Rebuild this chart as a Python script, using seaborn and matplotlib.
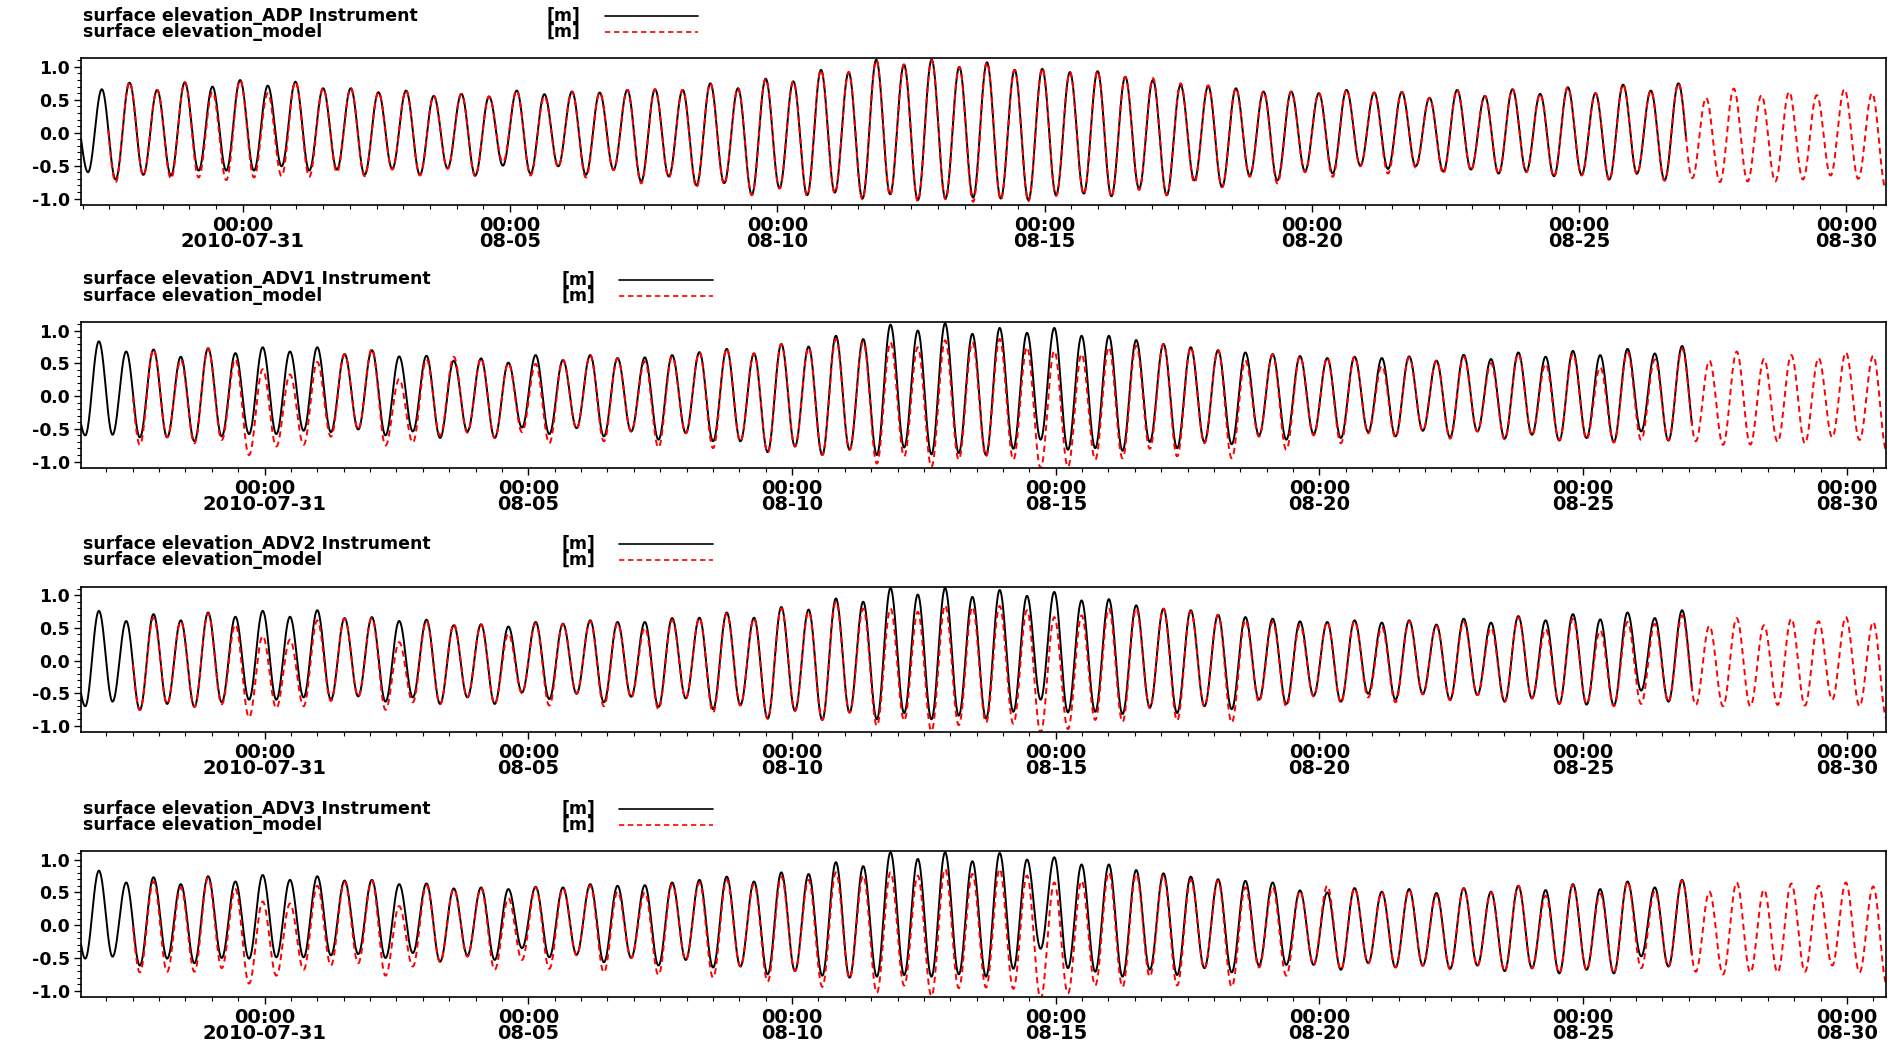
import numpy as np
import pandas as pd
import matplotlib
matplotlib.use("Agg")
import matplotlib.pyplot as plt
import matplotlib.dates as mdates
from matplotlib.lines import Line2D
from matplotlib.ticker import FixedLocator, MultipleLocator
import seaborn as sns

# ---------------------------------------------------------------------------
# Tidal record: high / low water per M2 cycle (metres)
# ---------------------------------------------------------------------------
BASE = pd.Timestamp("2010-07-31 00:00")
PERIOD_H = 12.42  # semidiurnal (M2) period in hours

# ADP station -- first listed high water at 2010-07-28 08:38, cycle index starts at -1
adp_first_high = pd.Timestamp("2010-07-28 08:38")
adp_obs_start, adp_obs_end = pd.Timestamp("2010-07-27 23:17"), pd.Timestamp("2010-08-27 00:00")
adp_mod_start, adp_mod_end = pd.Timestamp("2010-07-28 11:31"), pd.Timestamp("2010-08-30 17:46")
adp_obs_k0 = -1
adp_obs_high = [0.40, 0.66, 0.76, 0.65, 0.765, 0.70, 0.80, 0.715, 0.775, 0.675, 0.675,
                0.615, 0.64, 0.56, 0.59, 0.55, 0.64, 0.585, 0.625, 0.61, 0.65,
                0.66, 0.65, 0.75, 0.675, 0.82, 0.78, 0.955, 0.92, 1.11, 1.035,
                1.11, 1.0, 1.07, 0.955, 0.97, 0.92, 0.935, 0.85, 0.80, 0.725,
                0.71, 0.675, 0.625, 0.625, 0.6, 0.65, 0.61, 0.62, 0.53, 0.65,
                0.56, 0.66, 0.59, 0.69, 0.6, 0.73, 0.64, 0.75]
adp_obs_low = [-0.6, -0.71, -0.64, -0.65, -0.575, -0.575, -0.575, -0.51, -0.575, -0.56, -0.64,
               -0.55, -0.64, -0.54, -0.65, -0.5, -0.625, -0.51, -0.64, -0.56, -0.74,
               -0.665, -0.8, -0.765, -0.94, -0.84, -0.95, -0.91, -1.0, -0.935, -1.025,
               -1.0, -0.985, -1.0, -1.025, -0.95, -0.925, -0.965, -0.85, -0.95, -0.725,
               -0.825, -0.65, -0.725, -0.585, -0.62, -0.5, -0.55, -0.51, -0.59, -0.56,
               -0.62, -0.59, -0.66, -0.64, -0.71, -0.62, -0.72, -0.69]
adp_mod_k0 = 0
adp_mod_high = [0.66, 0.77, 0.65, 0.765, 0.62, 0.80, 0.6, 0.775, 0.675, 0.675,
                0.615, 0.64, 0.56, 0.59, 0.55, 0.64, 0.55, 0.625, 0.61, 0.65,
                0.66, 0.65, 0.75, 0.675, 0.82, 0.78, 0.955, 0.92, 1.1, 1.035,
                1.1, 1.0, 1.07, 0.955, 0.98, 0.92, 0.935, 0.85, 0.83, 0.75,
                0.72, 0.675, 0.625, 0.625, 0.6, 0.65, 0.61, 0.62, 0.53, 0.65,
                0.56, 0.66, 0.59, 0.69, 0.6, 0.73, 0.64, 0.75, 0.53, 0.67,
                0.57, 0.62, 0.57, 0.66, 0.6]
adp_mod_low = [-0.75, -0.65, -0.7, -0.68, -0.72, -0.68, -0.66, -0.67, -0.6, -0.66,
               -0.56, -0.65, -0.55, -0.66, -0.45, -0.65, -0.52, -0.68, -0.57, -0.77,
               -0.68, -0.83, -0.78, -0.95, -0.85, -0.96, -0.92, -1.01, -0.95, -1.04,
               -1.01, -1.05, -1.02, -1.04, -0.96, -0.94, -0.97, -0.87, -0.95, -0.76,
               -0.83, -0.67, -0.77, -0.6, -0.67, -0.51, -0.62, -0.53, -0.62, -0.57,
               -0.63, -0.6, -0.67, -0.65, -0.72, -0.63, -0.73, -0.69, -0.75, -0.74,
               -0.74, -0.71, -0.65, -0.7, -0.85]

# ADV stations -- first listed high water at 2010-07-27 20:38
adv_first_high = pd.Timestamp("2010-07-27 20:38")
adv_obs_start, adv_obs_end = pd.Timestamp("2010-07-27 12:29"), pd.Timestamp("2010-08-27 01:26")
adv_mod_start, adv_mod_end = pd.Timestamp("2010-07-28 12:07"), pd.Timestamp("2010-08-30 17:46")
adv_obs_k0 = -1
adv_mod_k0 = 1

adv1_obs_high = [0.2, 0.835, 0.68, 0.71, 0.6, 0.73, 0.655, 0.745, 0.68, 0.745, 0.64,
                 0.70, 0.605, 0.615, 0.54, 0.575, 0.51, 0.625, 0.55, 0.625, 0.58,
                 0.59, 0.625, 0.67, 0.72, 0.65, 0.795, 0.755, 0.92, 0.87, 1.09,
                 1.0, 1.11, 0.95, 1.04, 0.965, 1.04, 0.92, 0.92, 0.855, 0.795,
                 0.745, 0.7, 0.665, 0.64, 0.61, 0.58, 0.6, 0.58, 0.605, 0.54,
                 0.63, 0.565, 0.665, 0.6, 0.69, 0.625, 0.72, 0.65, 0.765]
adv1_obs_low = [-0.6, -0.59, -0.63, -0.63, -0.69, -0.615, -0.58, -0.58, -0.53, -0.55, -0.51,
                -0.6, -0.54, -0.64, -0.54, -0.64, -0.48, -0.58, -0.49, -0.615, -0.54,
                -0.665, -0.565, -0.69, -0.69, -0.855, -0.77, -0.9, -0.82, -0.9, -0.785,
                -0.89, -0.87, -0.9, -0.805, -0.665, -0.82, -0.795, -0.835, -0.7, -0.795,
                -0.7, -0.735, -0.6, -0.665, -0.58, -0.64, -0.55, -0.615, -0.53, -0.63,
                -0.54, -0.65, -0.59, -0.68, -0.64, -0.70, -0.54, -0.68, -0.69]
adv1_mod_high = [0.68, 0.71, 0.55, 0.72, 0.56, 0.41, 0.33, 0.52, 0.64, 0.72,
                 0.26, 0.56, 0.6, 0.57, 0.50, 0.49, 0.55, 0.62, 0.57, 0.53,
                 0.6, 0.665, 0.72, 0.65, 0.79, 0.74, 0.87, 0.83, 0.82, 0.745,
                 0.85, 0.82, 0.87, 0.745, 0.69, 0.64, 0.745, 0.77, 0.79, 0.74,
                 0.7, 0.54, 0.63, 0.6, 0.58, 0.6, 0.46, 0.59, 0.54, 0.6,
                 0.5, 0.64, 0.49, 0.64, 0.44, 0.67, 0.56, 0.72, 0.54, 0.68,
                 0.565, 0.625, 0.58, 0.665, 0.615]
adv1_mod_low = [-0.745, -0.63, -0.72, -0.67, -0.9, -0.77, -0.745, -0.62, -0.51, -0.755,
                -0.71, -0.6, -0.56, -0.64, -0.55, -0.72, -0.5, -0.69, -0.54, -0.785,
                -0.57, -0.795, -0.69, -0.86, -0.77, -0.9, -0.82, -1.03, -0.92, -1.08,
                -0.97, -0.92, -0.97, -1.1, -1.08, -0.97, -0.95, -0.805, -0.92, -0.72,
                -0.95, -0.62, -0.82, -0.6, -0.72, -0.57, -0.63, -0.53, -0.65, -0.54,
                -0.66, -0.6, -0.67, -0.66, -0.71, -0.67, -0.67, -0.69, -0.745, -0.74,
                -0.7, -0.72, -0.63, -0.67, -0.85]

adv2_obs_high = [0.2, 0.76, 0.605, 0.71, 0.615, 0.735, 0.67, 0.76, 0.67, 0.77, 0.65,
                 0.665, 0.605, 0.625, 0.54, 0.555, 0.52, 0.59, 0.565, 0.615, 0.59,
                 0.59, 0.65, 0.655, 0.735, 0.655, 0.82, 0.78, 0.95, 0.9, 1.11,
                 1.01, 1.11, 0.975, 1.08, 0.99, 1.05, 0.92, 0.94, 0.845, 0.795,
                 0.77, 0.7, 0.665, 0.64, 0.6, 0.59, 0.615, 0.58, 0.615, 0.55,
                 0.64, 0.58, 0.68, 0.615, 0.71, 0.63, 0.735, 0.65, 0.77]
adv2_obs_low = [-0.7, -0.63, -0.755, -0.665, -0.71, -0.64, -0.6, -0.6, -0.565, -0.6, -0.55,
                -0.63, -0.565, -0.665, -0.565, -0.665, -0.49, -0.59, -0.51, -0.64, -0.555,
                -0.71, -0.58, -0.745, -0.68, -0.89, -0.77, -0.91, -0.795, -0.9, -0.805,
                -0.9, -0.845, -0.89, -0.785, -0.6, -0.795, -0.785, -0.82, -0.72, -0.805,
                -0.7, -0.745, -0.6, -0.665, -0.54, -0.63, -0.51, -0.6, -0.51, -0.6,
                -0.53, -0.63, -0.58, -0.665, -0.675, -0.69, -0.46, -0.63, -0.68]
adv2_mod_high = [0.605, 0.655, 0.6, 0.72, 0.55, 0.375, 0.32, 0.615, 0.64, 0.65,
                 0.28, 0.6, 0.56, 0.55, 0.41, 0.57, 0.56, 0.6, 0.57, 0.5,
                 0.62, 0.65, 0.72, 0.64, 0.8, 0.75, 0.9, 0.795, 0.795, 0.745,
                 0.845, 0.82, 0.835, 0.77, 0.665, 0.69, 0.795, 0.795, 0.79, 0.75,
                 0.7, 0.615, 0.59, 0.54, 0.59, 0.6, 0.51, 0.6, 0.53, 0.59,
                 0.5, 0.66, 0.48, 0.64, 0.46, 0.59, 0.56, 0.69, 0.53, 0.65,
                 0.54, 0.64, 0.6, 0.665, 0.59]
adv2_mod_low = [-0.76, -0.67, -0.71, -0.67, -0.87, -0.73, -0.7, -0.62, -0.55, -0.755,
                -0.64, -0.67, -0.56, -0.66, -0.5, -0.69, -0.5, -0.7, -0.57, -0.745,
                -0.58, -0.795, -0.69, -0.89, -0.77, -0.91, -0.8, -1.0, -0.92, -1.08,
                -0.99, -0.95, -0.97, -1.1, -1.05, -0.91, -0.94, -0.73, -0.92, -0.7,
                -0.95, -0.63, -0.7, -0.55, -0.65, -0.565, -0.64, -0.52, -0.61, -0.53,
                -0.63, -0.58, -0.66, -0.66, -0.7, -0.665, -0.63, -0.68, -0.7, -0.7,
                -0.68, -0.69, -0.6, -0.7, -0.9]

adv3_obs_high = [0.5, 0.83, 0.65, 0.73, 0.625, 0.745, 0.665, 0.765, 0.69, 0.745, 0.68,
                 0.69, 0.625, 0.635, 0.56, 0.575, 0.55, 0.585, 0.575, 0.625, 0.6,
                 0.61, 0.65, 0.69, 0.74, 0.665, 0.805, 0.78, 0.96, 0.9, 1.11,
                 1.01, 1.11, 0.975, 1.1, 1.0, 1.035, 0.925, 0.925, 0.84, 0.79,
                 0.74, 0.7, 0.675, 0.65, 0.53, 0.5, 0.565, 0.51, 0.55, 0.49,
                 0.565, 0.51, 0.6, 0.535, 0.625, 0.55, 0.665, 0.575, 0.69]
adv3_obs_low = [-0.51, -0.48, -0.615, -0.51, -0.58, -0.5, -0.51, -0.49, -0.49, -0.46, -0.44,
                -0.5, -0.425, -0.555, -0.46, -0.53, -0.35, -0.49, -0.45, -0.565, -0.5,
                -0.615, -0.53, -0.645, -0.63, -0.75, -0.7, -0.77, -0.8, -0.785, -0.76,
                -0.785, -0.75, -0.785, -0.665, -0.36, -0.655, -0.71, -0.785, -0.68, -0.76,
                -0.655, -0.72, -0.615, -0.605, -0.605, -0.68, -0.58, -0.645, -0.615, -0.665,
                -0.615, -0.7, -0.655, -0.735, -0.68, -0.735, -0.475, -0.63, -0.71]
adv3_mod_high = [0.65, 0.665, 0.575, 0.72, 0.55, 0.36, 0.33, 0.6, 0.66, 0.68,
                 0.29, 0.61, 0.55, 0.56, 0.41, 0.575, 0.56, 0.6, 0.51, 0.5,
                 0.62, 0.65, 0.69, 0.625, 0.74, 0.69, 0.805, 0.755, 0.805, 0.755,
                 0.855, 0.78, 0.855, 0.755, 0.65, 0.675, 0.805, 0.78, 0.755, 0.69,
                 0.675, 0.575, 0.575, 0.52, 0.6, 0.56, 0.5, 0.54, 0.46, 0.56,
                 0.5, 0.6, 0.45, 0.61, 0.48, 0.66, 0.52, 0.68, 0.51, 0.65,
                 0.54, 0.635, 0.6, 0.65, 0.59]
adv3_mod_low = [-0.72, -0.71, -0.71, -0.655, -0.89, -0.77, -0.68, -0.615, -0.58, -0.77,
                -0.63, -0.56, -0.48, -0.68, -0.53, -0.665, -0.46, -0.72, -0.5, -0.76,
                -0.53, -0.8, -0.63, -0.86, -0.7, -0.94, -0.81, -1.03, -0.92, -1.08,
                -0.96, -0.95, -0.97, -1.12, -1.04, -0.92, -0.94, -0.785, -0.92, -0.66,
                -0.94, -0.645, -0.77, -0.6, -0.68, -0.58, -0.64, -0.62, -0.67, -0.62,
                -0.7, -0.66, -0.73, -0.68, -0.73, -0.655, -0.63, -0.71, -0.75, -0.72,
                -0.72, -0.71, -0.615, -0.72, -0.9]

tick_dates = ["2010-07-31", "2010-08-05", "2010-08-10", "2010-08-15",
              "2010-08-20", "2010-08-25", "2010-08-30"]
tick_labels = ["00:00\n2010-07-31", "00:00\n08-05", "00:00\n08-10", "00:00\n08-15",
               "00:00\n08-20", "00:00\n08-25", "00:00\n08-30"]
y_ticks = [-1.0, -0.5, 0.0, 0.5, 1.0]
y_tick_labels = ["-1.0", "-0.5", "0.0", "0.5", "1.0"]


def tide_curve(first_high, k0, highs, lows, start, end):
    """Continuous water level through alternating high / low waters."""
    highs = np.asarray(highs, float)
    lows = np.asarray(lows, float)
    k = np.arange(k0, k0 + len(highs))
    h0 = (first_high - BASE) / pd.Timedelta(hours=1)
    t_hi = h0 + k * PERIOD_H
    t_lo = t_hi + PERIOD_H / 2
    ext_t = np.empty(2 * len(k))
    ext_v = np.empty(2 * len(k))
    ext_t[0::2], ext_t[1::2] = t_hi, t_lo
    ext_v[0::2], ext_v[1::2] = highs, lows
    hs = (start - BASE) / pd.Timedelta(hours=1)
    he = (end - BASE) / pd.Timedelta(hours=1)
    grid = np.append(np.arange(hs, he, 1 / 6), he)
    j = np.clip(np.searchsorted(ext_t, grid, side="right") - 1, 0, len(ext_t) - 2)
    f = (grid - ext_t[j]) / (ext_t[j + 1] - ext_t[j])
    v = ext_v[j] + (ext_v[j + 1] - ext_v[j]) * (1 - np.cos(np.pi * f)) / 2
    return pd.DataFrame({"time": BASE + pd.to_timedelta(grid, unit="h"), "elev": v})


panels = [
    dict(name="ADP",
         obs=tide_curve(adp_first_high, adp_obs_k0, adp_obs_high, adp_obs_low, adp_obs_start, adp_obs_end),
         mod=tide_curve(adp_first_high, adp_mod_k0, adp_mod_high, adp_mod_low, adp_mod_start, adp_mod_end),
         xlim=(adp_obs_start, adp_mod_end), m_right=580, line_x=(605, 698)),
    dict(name="ADV1",
         obs=tide_curve(adv_first_high, adv_obs_k0, adv1_obs_high, adv1_obs_low, adv_obs_start, adv_obs_end),
         mod=tide_curve(adv_first_high, adv_mod_k0, adv1_mod_high, adv1_mod_low, adv_mod_start, adv_mod_end),
         xlim=(adv_obs_start, adv_mod_end), m_right=595, line_x=(619, 713)),
    dict(name="ADV2",
         obs=tide_curve(adv_first_high, adv_obs_k0, adv2_obs_high, adv2_obs_low, adv_obs_start, adv_obs_end),
         mod=tide_curve(adv_first_high, adv_mod_k0, adv2_mod_high, adv2_mod_low, adv_mod_start, adv_mod_end),
         xlim=(adv_obs_start, adv_mod_end), m_right=595, line_x=(619, 713)),
    dict(name="ADV3",
         obs=tide_curve(adv_first_high, adv_obs_k0, adv3_obs_high, adv3_obs_low, adv_obs_start, adv_obs_end),
         mod=tide_curve(adv_first_high, adv_mod_k0, adv3_mod_high, adv3_mod_low, adv_mod_start, adv_mod_end),
         xlim=(adv_obs_start, adv_mod_end), m_right=595, line_x=(619, 713)),
]

# ---------------------------------------------------------------------------
# Figure
# ---------------------------------------------------------------------------
sns.set_theme(style="ticks")
plt.rcParams["font.family"] = ["DejaVu Sans"]
plt.rcParams["font.weight"] = "bold"
plt.rcParams["axes.unicode_minus"] = False

W, H = 1904, 1043
fig = plt.figure(figsize=(W / 100, H / 100), dpi=100, facecolor="white")

left_px, right_px = 81, 1886
frames = [(58.3, 204.5), (322.0, 467.5), (586.7, 731.7), (851.0, 996.7)]

OBS_COLOR = "black"
MOD_COLOR = "#ff0000"
MOD_DASH = (0, (3.2, 2.2))
LW = 1.4
FS_LEG = 12.5
FS_TICK_X = 14
FS_TICK_Y = 12.5

for p, (top, bot) in zip(panels, frames):
    ax = fig.add_axes([left_px / W, 1 - bot / H, (right_px - left_px) / W, (bot - top) / H])
    sns.lineplot(data=p["obs"], x="time", y="elev", ax=ax, color=OBS_COLOR,
                 linewidth=LW, estimator=None, sort=False, errorbar=None)
    sns.lineplot(data=p["mod"], x="time", y="elev", ax=ax, color=MOD_COLOR,
                 linewidth=LW, linestyle=MOD_DASH, estimator=None, sort=False, errorbar=None)

    ax.set_xlim(p["xlim"])
    ax.set_ylim(-1.09, 1.13)
    ax.set_xlabel("")
    ax.set_ylabel("")

    ax.set_xticks(pd.to_datetime(tick_dates))
    ax.set_xticklabels(tick_labels, fontsize=FS_TICK_X, fontweight="bold", linespacing=0.8)
    ax.xaxis.set_minor_locator(mdates.HourLocator(byhour=[0, 12]))
    ax.yaxis.set_major_locator(FixedLocator(y_ticks))
    ax.set_yticklabels(y_tick_labels, fontsize=FS_TICK_Y, fontweight="bold")
    ax.yaxis.set_minor_locator(MultipleLocator(0.1))

    ax.tick_params(axis="both", which="major", direction="out", length=5, width=1.0,
                   color="black", labelcolor="black")
    ax.tick_params(axis="both", which="minor", direction="out", length=3, width=0.8, color="black")
    ax.tick_params(axis="x", which="major", pad=3)
    ax.tick_params(axis="y", which="major", pad=3)
    for s in ax.spines.values():
        s.set_color("black")
        s.set_linewidth(1.2)
    ax.set_facecolor("white")

    # two-row key above each panel
    rows = [(top - 42.5, f"surface elevation_{p['name']} Instrument", OBS_COLOR, "-"),
            (top - 26.5, "surface elevation_model", MOD_COLOR, MOD_DASH)]
    for y_px, label, color, ls in rows:
        yf = 1 - y_px / H
        fig.text(82.6 / W, yf, label, ha="left", va="center", fontsize=FS_LEG,
                 fontweight="bold", color="black")
        fig.text(p["m_right"] / W, yf, "[m]", ha="right", va="center", fontsize=FS_LEG,
                 fontweight="bold", color="black")
        x0, x1 = p["line_x"]
        fig.add_artist(Line2D([x0 / W, x1 / W], [yf, yf], transform=fig.transFigure,
                              color=color, linewidth=1.2, linestyle=ls))

fig.savefig("out.png", dpi=100, facecolor="white")
